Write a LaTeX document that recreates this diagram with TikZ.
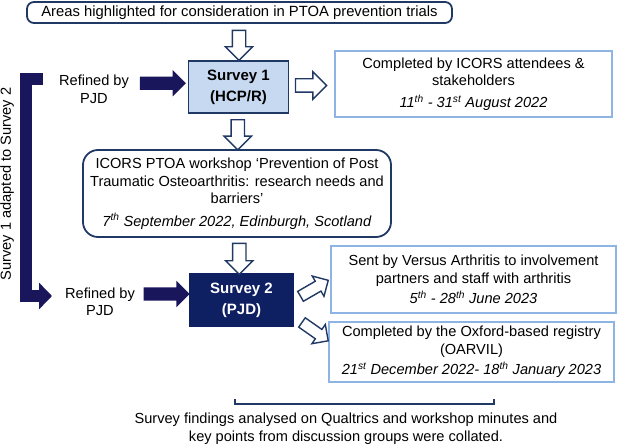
\documentclass[tikz,border=0pt]{standalone}
\usepackage{fontspec}
\setmainfont{Liberation Sans}
\usepackage{tikz}
\usetikzlibrary{calc,shapes.arrows,positioning,arrows.meta}
\definecolor{navyline}{HTML}{203864}
\definecolor{deepnavy}{HTML}{0F2062}
\definecolor{inkblue}{HTML}{1A165C}
\definecolor{paleblue}{HTML}{C6D9F1}
\definecolor{skyline}{HTML}{8EB4E3}
\tikzset{
    info box/.style={
        draw=skyline,line width=1.8pt,
        fill=white,inner sep=0pt,
        align=center,
        font=\fontsize{14.6}{17.5}\selectfont
    },
    round box/.style={
        draw=navyline,line width=1.8pt,rounded corners=9pt,
        fill=white,inner sep=0pt,
        align=center,
        font=\fontsize{14.6}{17.5}\selectfont
    },
    survey box/.style={
        draw=navyline,line width=1.5pt,
        minimum width=100pt,minimum height=52pt,
        align=center,
        font=\bfseries\fontsize{15}{21}\selectfont
    },
    hollow arrow/.style={
        single arrow,draw=navyline,line width=1.4pt,fill=white,
        inner xsep=0pt,inner ysep=6pt,
        single arrow head extend=7pt,minimum height=30pt
    },
    solid arrow/.style={
        single arrow,fill=inkblue,
        inner xsep=0pt,inner ysep=6.5pt,
        single arrow head extend=6.5pt,minimum height=46pt
    },
    side note/.style={align=center,inner sep=2pt,font=\fontsize{14.6}{17.5}\selectfont},
    adapt line/.style={draw=inkblue,line width=12pt,line join=miter},
    >={Triangle[length=13pt,width=26pt]}
}
\begin{document}
\begin{tikzpicture}[x=1pt,y=-1pt]
\useasboundingbox (0,0) rectangle (617,446);
\node[round box,rounded corners=7pt,minimum width=425pt,minimum height=21pt,font=\fontsize{14.8}{18}\selectfont] (areas) at (239.5,12.5)
    {Areas highlighted for consideration in PTOA prevention trials};
\node[survey box,fill=paleblue,text=black] (survA) at (238.5,87) {Survey 1\\(HCP/R)};
\node[info box,minimum width=277pt,minimum height=66pt] (doneA) at (473.5,84)
    {Completed by ICORS attendees \&\\stakeholders\\[4pt]
     \textit{11\textsuperscript{th} - 31\textsuperscript{st} August 2022}};
\node[side note] (refA) at (94,89.5) {Refined by\\PJD};
\node[round box,rounded corners=15pt,minimum width=308pt,minimum height=87pt] (workshop) at (237,193.5)
    {ICORS PTOA workshop ‘Prevention of Post\\Traumatic Osteoarthritis: research needs and\\barriers’\\[5pt]
     \textit{7\textsuperscript{th} September 2022, Edinburgh, Scotland}};
\node[survey box,minimum width=103pt,fill=deepnavy,draw=deepnavy,text=white] (survB) at (241.5,300) {Survey 2\\(PJD)};
\node[info box,minimum width=285pt,minimum height=67pt] (sentB) at (473.5,279.5)
    {Sent by Versus Arthritis to involvement\\partners and staff with arthritis\\[3pt]
     \textit{5\textsuperscript{th} - 28\textsuperscript{th} June 2023}};
\node[info box,minimum width=285pt,minimum height=60pt] (oxford) at (471.5,352)
    {Completed by the Oxford-based registry\\(OARVIL)\\[3pt]
     \textit{21\textsuperscript{st} December 2022- 18\textsuperscript{th} January 2023}};
\node[side note] (refB) at (100,302) {Refined by\\PJD};
\node[side note,font=\fontsize{14.6}{18}\selectfont] (findings) at (346,428.5)
    {Survey findings analysed on Qualtrics and workshop minutes and\\key points from discussion groups were collated.};
\node[side note,rotate=90] (adapted) at (7,184) {Survey 1 adapted to Survey 2};

\node[hollow arrow,rotate=-90] (down1) at ($(areas.south)!0.5!(survA.north)$) {};
\node[hollow arrow,minimum height=31pt] (right1) at ($(survA.east)!0.5!(doneA.west)+(-4,0)$) {};
\node[hollow arrow,rotate=-90] (down2) at ($(survA.south)!0.5!(workshop.north)$) {};
\node[hollow arrow,rotate=-90,minimum height=31pt] (down3) at ($(workshop.south)!0.5!(survB.north)$) {};
\node[hollow arrow,rotate=30,minimum height=32pt,inner ysep=5pt,single arrow head extend=6pt] (upB) at ($(survB.east)!0.5!(sentB.west)$) {};
\node[hollow arrow,rotate=-35,minimum height=32pt,inner ysep=5pt,single arrow head extend=6pt] (lowB) at ($(survB.east)+(19,30)$) {};

\node[solid arrow,yshift=5pt] (pushA) at ($(refA.east)!0.5!(survA.west)$) {};
\node[solid arrow,yshift=7pt] (pushB) at ($(refB.east)!0.5!(survB.west)$) {};

\coordinate (adaptTop) at (43,79);
\coordinate (adaptEnd) at (52,296);
\draw[adapt line,->] (adaptTop) -- (26,79) |- (adaptEnd);

\draw[navyline,line width=1.5pt] (235,399) -- (235,404) -- (494,404) -- (494,399);
\end{tikzpicture}
\end{document}
